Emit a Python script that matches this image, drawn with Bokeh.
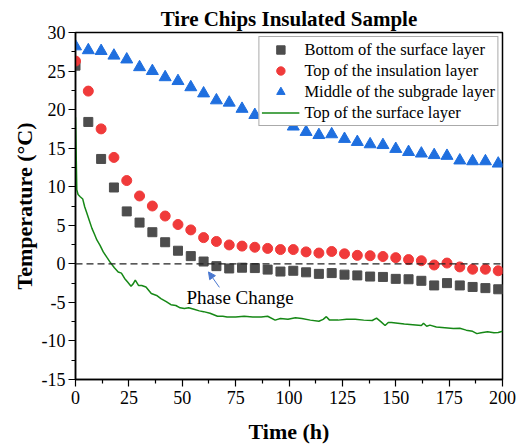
from bokeh.plotting import figure
from bokeh.models import (FixedTicker, Legend, LegendItem, Label, Arrow, NormalHead, Span)
from bokeh.embed import file_html
from bokeh.resources import INLINE

# ---- data ----
times = [0, 6, 12, 18, 24, 30, 36, 42, 48, 54, 60, 66, 72, 78, 84, 90, 96, 102, 108, 114,
         120, 126, 132, 138, 144, 150, 156, 162, 168, 174, 180, 186, 192, 198]
bottom_surface = [25.7, 18.4, 13.6, 9.9, 6.8, 5.35, 4.1, 2.8, 1.7, 1.0, 0.3, -0.3, -0.6, -0.5,
                  -0.55, -0.75, -1.0, -0.9, -1.1, -1.3, -1.2, -1.4, -1.5, -1.65, -1.7, -1.95,
                  -2.0, -2.2, -2.8, -2.5, -2.8, -3.0, -3.15, -3.3]
top_insulation = [26.3, 22.4, 17.5, 13.8, 10.8, 8.8, 7.5, 6.2, 5.1, 4.4, 3.4, 2.9, 2.45, 2.3,
                  2.15, 2.0, 1.85, 1.85, 1.55, 1.4, 1.6, 1.3, 1.1, 1.05, 0.95, 0.8, 0.55, 0.4,
                  -0.15, 0.1, -0.4, -0.7, -0.7, -0.9]
middle_subgrade = [28.2, 27.7, 27.6, 27.0, 26.5, 25.5, 25.0, 24.2, 23.7, 22.9, 22.1, 21.2, 20.9,
                   20.1, 19.3, 18.7, 18.4, 17.8, 17.1, 16.7, 16.8, 16.2, 15.8, 15.5, 15.4, 14.9,
                   14.5, 14.3, 14.1, 14.0, 13.4, 13.3, 13.3, 13.0]

surface_t = [0, 0.3, 0.6, 1.2, 2.2, 3.4, 4.3, 5.3, 6.5, 7.7, 8.8, 10, 11.5, 13, 14.8, 16.5, 18.2,
             20, 21.5, 23, 24.5, 26, 27, 28, 29.5, 31, 33, 35.5, 38, 40, 42.5, 44.7, 47, 49, 51,
             53, 55.5, 58, 60, 63, 66.5, 69, 71, 75, 79, 83, 87, 90, 93.5, 96, 99.5, 103, 106,
             110, 114, 116, 117.5, 119, 123, 127, 131, 135, 139, 141, 143, 145, 146.5, 148, 151,
             154, 158, 162, 163, 164.5, 166, 169, 173, 177, 180, 183, 186, 188, 190, 193, 196,
             198, 200]
surface_top = [19.0, 14.5, 9.6, 9.0, 8.7, 8.4, 7.4, 6.6, 5.6, 4.6, 3.9, 3.1, 2.4, 1.55, 0.8, 0.1,
               -0.5, -1.05, -1.2, -1.9, -2.4, -2.9, -2.6, -2.1, -2.8, -2.8, -3.0, -3.85, -4.1,
               -4.5, -4.9, -5.3, -5.4, -5.7, -5.8, -5.7, -5.9, -6.1, -6.2, -6.4, -6.8, -6.8,
               -6.9, -6.9, -6.8, -6.9, -6.9, -6.8, -7.3, -7.1, -7.2, -7.0, -7.1, -7.3, -7.45,
               -7.2, -6.85, -7.3, -7.3, -7.2, -7.2, -7.3, -7.35, -7.05, -7.5, -8.0, -7.6, -7.6,
               -7.7, -7.8, -7.9, -8.0, -7.7, -8.1, -7.95, -8.2, -8.3, -8.4, -8.35, -8.6, -8.75,
               -9.05, -8.95, -8.8, -8.95, -8.9, -8.75]

x_ticks = [0, 25, 50, 75, 100, 125, 150, 175, 200]
y_ticks = [-15, -10, -5, 0, 5, 10, 15, 20, 25, 30]
y_tick_labels = ["-15", "-10", "-5", "0", "5", "10", "15", "20", "25", "30"]
series_names = ["Bottom of the surface layer", "Top of the insulation layer",
                "Middle of the subgrade layer", "Top of the surface layer"]
title_text = "Tire Chips Insulated Sample"
annotation_text = "Phase Change"
annotation_pos = (52, -4.4)
arrow_from = (67.4, -3.05)
arrow_to = (62.3, -1.05)

SERIF = "Liberation Serif"

p = figure(width=517, height=448, output_backend="svg", toolbar_location=None,
           x_range=(0, 200), y_range=(-15, 30), title=title_text)
p.min_border_left = 75
p.min_border_right = 15
p.min_border_top = 32
p.min_border_bottom = 69
p.background_fill_color = "white"
p.border_fill_color = "white"
p.outline_line_color = "black"
p.outline_line_width = 1.5
p.xgrid.visible = False
p.ygrid.visible = False

p.title.text_font = SERIF
p.title.text_font_size = "21px"
p.title.text_font_style = "bold"
p.title.text_color = "black"
p.title.align = "center"
p.title.offset = 0
p.title.standoff = 4

for ax in (p.xaxis[0], p.yaxis[0]):
    ax.axis_line_width = 1.5
    ax.axis_line_color = "black"
    ax.major_tick_in = 0
    ax.major_tick_out = 7
    ax.minor_tick_in = 0
    ax.minor_tick_out = 4
    ax.major_tick_line_width = 1.2
    ax.minor_tick_line_width = 1.2
    ax.major_label_text_font = SERIF
    ax.major_label_text_font_size = "18px"
    ax.major_label_text_color = "black"
    ax.axis_label_text_font = SERIF
    ax.axis_label_text_font_size = "22px"
    ax.axis_label_text_font_style = "bold"
    ax.axis_label_text_color = "black"

p.xaxis.ticker = FixedTicker(ticks=x_ticks, minor_ticks=[t + 12.5 for t in x_ticks[:-1]])
p.yaxis.ticker = FixedTicker(ticks=y_ticks, minor_ticks=[t + 2.5 for t in y_ticks[:-1]])
p.yaxis.major_label_overrides = {t: s for t, s in zip(y_ticks, y_tick_labels)}
p.xaxis.major_label_overrides = {t: str(t) for t in x_ticks}
p.xaxis.axis_label = "Time (h)"
p.yaxis.axis_label = "Temperature (°C)"
p.xaxis.major_label_standoff = 4
p.yaxis.major_label_standoff = 3
p.xaxis.axis_label_standoff = 12
p.yaxis.axis_label_standoff = 2

zero = Span(location=0, dimension="width", line_color="#222222", line_width=1.2,
            line_dash="7 4")
p.add_layout(zero)

r_line = p.line(surface_t, surface_top, line_color="#168816", line_width=1.5)
r_sq = p.scatter(times, bottom_surface, marker="square", size=9, fill_color="#4d4d4d",
                 line_color="#4d4d4d")
r_ci = p.scatter(times, top_insulation, marker="circle", size=10, fill_color="#f03a3a",
                 line_color="#f03a3a")
r_tr = p.scatter(times, middle_subgrade, marker="triangle", size=12, fill_color="#1f6fdf",
                 line_color="#1f6fdf")

label = Label(x=annotation_pos[0], y=annotation_pos[1], text=annotation_text,
              text_font=SERIF, text_font_size="19px", text_baseline="middle",
              text_color="black")
p.add_layout(label)

arrow = Arrow(end=NormalHead(size=7, fill_color="#4a78d0", line_color="#4a78d0"),
              x_start=arrow_from[0], y_start=arrow_from[1],
              x_end=arrow_to[0], y_end=arrow_to[1],
              line_color="#4a78d0", line_width=1)
p.add_layout(arrow)

legend = Legend(items=[LegendItem(label=series_names[0], renderers=[r_sq]),
                       LegendItem(label=series_names[1], renderers=[r_ci]),
                       LegendItem(label=series_names[2], renderers=[r_tr]),
                       LegendItem(label=series_names[3], renderers=[r_line])],
                location="top_right")
legend.margin = 4
legend.padding = 2
legend.spacing = 0
legend.glyph_width = 38
legend.glyph_height = 21
legend.label_height = 21
legend.label_standoff = 5
legend.label_text_font = SERIF
legend.label_text_font_size = "16.5px"
legend.label_text_color = "black"
legend.border_line_color = "#555555"
legend.border_line_width = 1.5
legend.background_fill_alpha = 1
p.add_layout(legend)

open("out.html", "w").write(file_html(p, INLINE))
